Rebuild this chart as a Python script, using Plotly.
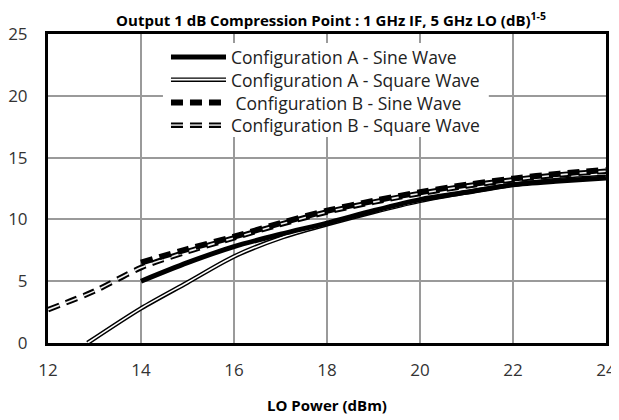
import plotly.graph_objects as go

# ---- data ----
x_a_sine = [14, 15, 16, 17, 18, 19, 20, 21, 22, 23, 24]
y_a_sine = [5.0, 6.5, 7.8, 8.8, 9.7, 10.7, 11.6, 12.2, 12.8, 13.1, 13.35]

x_a_square = [12.85, 14, 15, 16, 17, 18, 19, 20, 21, 22, 23, 24]
y_a_square = [0.0, 2.8, 4.9, 7.0, 8.5, 9.6, 10.6, 11.5, 12.2, 12.8, 13.2, 13.45]

x_b_sine = [14, 15, 16, 17, 18, 19, 20, 21, 22, 23, 24]
y_b_sine = [6.5, 7.6, 8.6, 9.7, 10.7, 11.5, 12.2, 12.8, 13.3, 13.7, 14.0]

x_b_square = [12, 13, 14, 15, 16, 17, 18, 19, 20, 21, 22, 23, 24]
y_b_square = [2.7, 4.2, 6.1, 7.4, 8.5, 9.6, 10.6, 11.4, 12.1, 12.7, 13.2, 13.6, 13.9]

series_names = [
    "Configuration A - Sine Wave",
    "Configuration A - Square Wave",
    "\u00a0Configuration B - Sine Wave",
    "Configuration B - Square Wave",
]

x_ticks = [12, 14, 16, 18, 20, 22, 24]
y_ticks = [0, 5, 10, 15, 20, 25]

TITLE = "<b>Output 1 dB Compression Point : 1 GHz IF, 5 GHz LO (dB)<sup>1-5</sup></b>"
XTITLE = "<b>LO Power (dBm)</b>"

FONT = "Open Sans"
DASH = "12px,7px"

fig = go.Figure()

def add(x, y, name, color, width, dash="solid"):
    fig.add_trace(go.Scatter(
        x=x, y=y, name=name.strip("\u00a0"), mode="lines", showlegend=False,
        line=dict(color=color, width=width, dash=dash, shape="spline", smoothing=0.8),
        hoverinfo="x+y+name",
    ))

# Configuration A - Square (double line)
add(x_a_square, y_a_square, series_names[1], "black", 4.5)
add(x_a_square, y_a_square, series_names[1], "white", 1.6)
# Configuration A - Sine
add(x_a_sine, y_a_sine, series_names[0], "black", 5)
# Configuration B - Square (double dashed)
add(x_b_square, y_b_square, series_names[3], "black", 5.5, DASH)
add(x_b_square, y_b_square, series_names[3], "#f0f0f0", 1.6, DASH)
# Configuration B - Sine
add(x_b_sine, y_b_sine, series_names[2], "black", 6, DASH)

# ---- manual legend (paper coordinates; plot area is 309 px tall) ----
LEG_FONT = 17.5
plot_h = 309.0
center_y = 0.8155
step = LEG_FONT * 1.3 / plot_h
rows_y = [center_y + 1.5 * step, center_y + 0.5 * step,
          center_y - 0.5 * step, center_y - 1.5 * step]

shapes = []
shapes.append(dict(type="rect", xref="paper", yref="paper",
                   x0=0.206, x1=0.790, y0=0.667, y1=0.971,
                   fillcolor="white", line=dict(width=0), layer="above"))
lx0, lx1, tx = 0.2204, 0.319, 0.3244
styles = [
    [("black", 5, "solid")],
    [("black", 4.5, "solid"), ("white", 1.6, "solid")],
    [("black", 6, DASH)],
    [("black", 5.5, DASH), ("#c0c0c0", 1.8, DASH)],
]
for ry, st in zip(rows_y, styles):
    for c, w, d in st:
        shapes.append(dict(type="line", xref="paper", yref="paper",
                           x0=lx0, x1=lx1, y0=ry, y1=ry,
                           line=dict(color=c, width=w, dash=d), layer="above"))

annotations = [dict(xref="paper", yref="paper", x=tx, y=center_y,
                    xanchor="left", yanchor="middle", align="left", showarrow=False,
                    text="<br>".join(series_names),
                    font=dict(family=FONT, size=LEG_FONT, color="#222222"))]

# The page body adds an 8px offset, so the figure is 611x412
fig.update_layout(
    width=611, height=412,
    margin=dict(l=40, r=13, t=26, b=77, autoexpand=False),
    paper_bgcolor="white", plot_bgcolor="white",
    title=dict(text=TITLE, x=0.5287, xanchor="center", xref="container",
               y=0.9695, yanchor="middle", yref="container",
               font=dict(family=FONT, size=15, color="black")),
    xaxis=dict(range=[12, 24], tickvals=x_ticks, showgrid=True, automargin=False,
               gridcolor="#9a9a9a", gridwidth=1.6, zeroline=False,
               showline=True, linecolor="black", linewidth=3, mirror=True,
               ticks="", ticklabelstandoff=10,
               tickfont=dict(family=FONT, size=17, color="#333333"),
               title=dict(text=XTITLE, standoff=21,
                          font=dict(family=FONT, size=15, color="black"))),
    yaxis=dict(range=[0, 25], tickvals=y_ticks, showgrid=True, automargin=False,
               gridcolor="#9a9a9a", gridwidth=1.6, zeroline=False,
               showline=True, linecolor="black", linewidth=3, mirror=True,
               ticks="", ticklabelstandoff=14,
               tickfont=dict(family=FONT, size=17, color="#333333")),
    shapes=shapes,
    annotations=annotations,
)

fig.write_html("out.html")
